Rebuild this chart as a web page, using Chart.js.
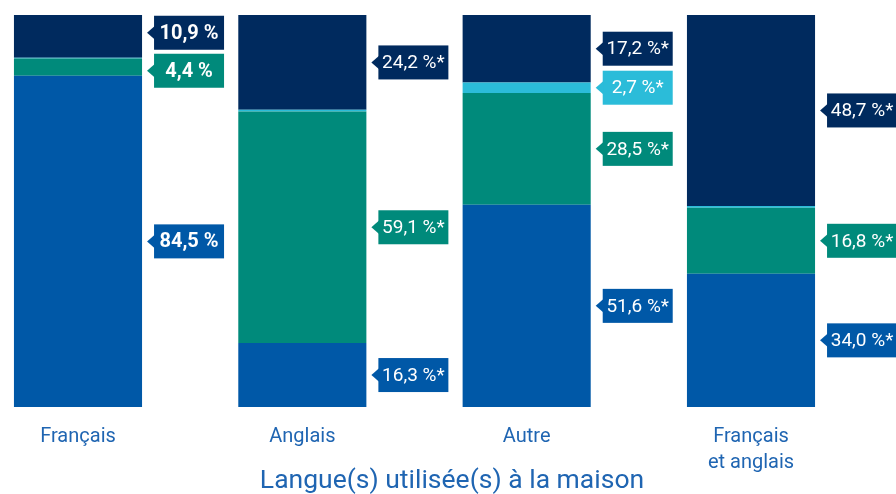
<!DOCTYPE html>
<html lang="fr">
<head>
<meta charset="utf-8">
<title>Langue(s) utilisée(s) à la maison</title>
<script src="https://cdn.jsdelivr.net/npm/chart.js@4/dist/chart.umd.min.js"></script>
<style>
  html, body { margin: 0; padding: 0; background: #fff; }
  #wrap { width: 896px; height: 494px; position: relative; }
</style>
</head>
<body>
<div id="wrap"><canvas id="chart"></canvas></div>
<script>
  // ── Data ───────────────────────────────────────────────────
  const categories = [['Français'], ['Anglais'], ['Autre'], ['Français', 'et anglais']];
  const blueValues = [84.5, 16.3, 51.6, 34.0];
  const tealValues = [4.4, 59.1, 28.5, 16.8];
  const cyanValues = [0.2, 0.4, 2.7, 0.5];
  const navyValues = [10.9, 24.2, 17.2, 48.7];
  const starred    = [false, true, true, true];
  const axisTitle  = 'Langue(s) utilisée(s) à la maison';

  // ── Style ──────────────────────────────────────────────────
  const BLUE = '#0058a7', TEAL = '#008a7b', CYAN = '#2bbcd9', NAVY = '#002a5e';
  const TEXT = '#1f65b2';
  const FONT = 'Roboto, "Liberation Sans", sans-serif';

  const fmt = (v, star) => v.toFixed(1).replace('.', ',') + ' %' + (star ? '*' : '');

  // ── Label boxes beside each bar ────────────────────────────
  const boxLabels = {
    id: 'boxLabels',
    afterDatasetsDraw(chart) {
      const ctx = chart.ctx;
      const MIN_GAP = 38, BOX_W = 70, BOX_H = 34;
      categories.forEach((c, i) => {
        const items = [];
        chart.data.datasets.forEach((ds, d) => {
          const v = ds.data[i];
          if (v < 1) return;
          const bar = chart.getDatasetMeta(d).data[i];
          items.push({
            y: (bar.y + bar.base) / 2,
            x: bar.x + bar.width / 2,
            color: ds.backgroundColor,
            text: fmt(v, starred[i])
          });
        });
        items.sort((a, b) => a.y - b.y);
        for (let pass = 0; pass < 30; pass++) {
          for (let k = 1; k < items.length; k++) {
            const gap = items[k].y - items[k - 1].y;
            if (gap < MIN_GAP) {
              const push = (MIN_GAP - gap) / 2;
              items[k - 1].y -= push;
              items[k].y += push;
            }
          }
        }
        items.forEach(it => {
          const tip = it.x + 5, left = it.x + 12;
          ctx.save();
          ctx.fillStyle = it.color;
          ctx.fillRect(left, it.y - BOX_H / 2, BOX_W, BOX_H);
          ctx.beginPath();
          ctx.moveTo(tip, it.y);
          ctx.lineTo(left + 1, it.y - 7);
          ctx.lineTo(left + 1, it.y + 7);
          ctx.closePath();
          ctx.fill();
          ctx.fillStyle = '#fff';
          ctx.font = (starred[i] ? '400 19px ' : 'bold 20px ') + FONT;
          ctx.textAlign = 'center';
          ctx.textBaseline = 'middle';
          ctx.fillText(it.text, left + BOX_W / 2, it.y + 1);
          ctx.restore();
        });
      });
    }
  };

  const axisTitlePlugin = {
    id: 'axisTitlePlugin',
    afterDraw(chart) {
      const ctx = chart.ctx;
      ctx.save();
      ctx.fillStyle = TEXT;
      ctx.font = '400 26.5px ' + FONT;
      ctx.textAlign = 'center';
      ctx.textBaseline = 'middle';
      ctx.fillText(axisTitle, 452, 481);
      ctx.restore();
    }
  };

  const ds = (label, data, color) => ({
    label, data, backgroundColor: color, borderWidth: 0,
    categoryPercentage: 1, barPercentage: 0.571, clip: false
  });

  new Chart(document.getElementById('chart'), {
    type: 'bar',
    data: {
      labels: categories,
      datasets: [
        ds('Bleu', blueValues, BLUE),
        ds('Vert', tealValues, TEAL),
        ds('Cyan', cyanValues, CYAN),
        ds('Marine', navyValues, NAVY)
      ]
    },
    options: {
      responsive: true,
      maintainAspectRatio: false,
      animation: false,
      layout: { padding: { left: 78, right: 145, top: 15, bottom: 0 } },
      plugins: { legend: { display: false }, tooltip: { enabled: false } },
      scales: {
        x: {
          stacked: true,
          offset: false,
          grid: { display: false, drawTicks: false },
          border: { display: false },
          ticks: { color: TEXT, font: { family: FONT, size: 20, lineHeight: 1.3 }, padding: 17, maxRotation: 0, autoSkip: false },
          afterFit: scale => { scale.height = 87; }
        },
        y: { stacked: true, display: false, min: 0, max: 100 }
      }
    },
    plugins: [boxLabels, axisTitlePlugin]
  });
</script>
</body>
</html>
